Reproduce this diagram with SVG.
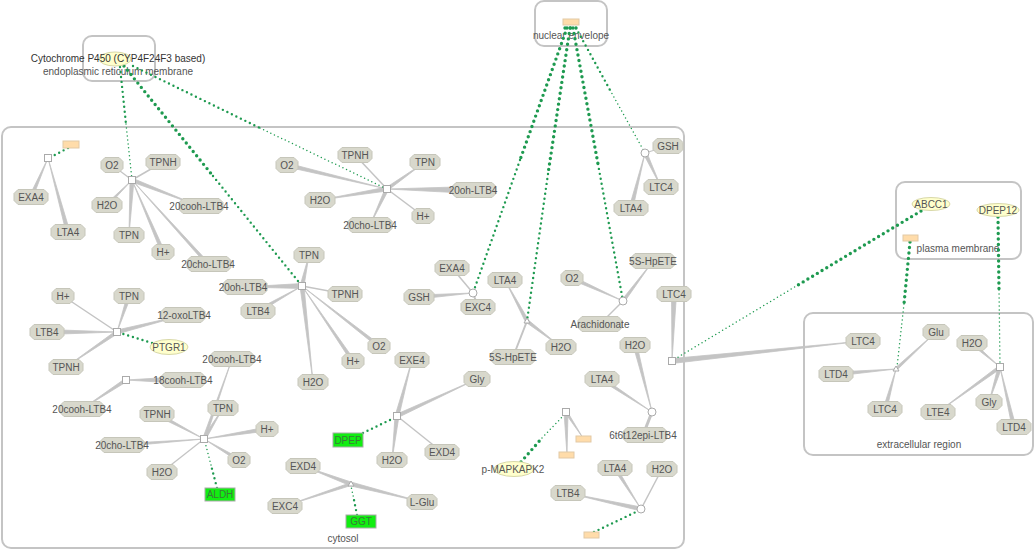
<svg xmlns="http://www.w3.org/2000/svg" xmlns:xlink="http://www.w3.org/1999/xlink" width="1035" height="552" viewBox="0 0 1035 552">
<style>
text{font-family:"Liberation Sans",Arial,sans-serif;font-size:10px;fill:#555;text-anchor:middle}
.comp{fill:none;stroke:#c4c4c4;stroke-width:2}
.oct{fill:#d8d8cc;stroke:#c6c6ba;stroke-width:1}
.w{fill:#c4c4c4;stroke:#c4c4c4;stroke-width:0.8;stroke-linejoin:round}
.l{stroke:#c4c4c4;fill:none}
.pr{fill:#fff;stroke:#aaa;stroke-width:1}
.enz{fill:#ffffcc;stroke:#d8d8a8;stroke-width:1}
.grn{fill:#11ee11;stroke:#aaa;stroke-width:1}
.org{fill:#ffdcaa;stroke:#e2c9a6;stroke-width:1}
.c1{stroke:#1e9a50;fill:none;stroke-linecap:round;stroke-width:3.4;stroke-dasharray:0 5.5}
.c2{stroke:#1e9a50;fill:none;stroke-linecap:round;stroke-width:2.4;stroke-dasharray:0 5}
.c3{stroke:#1e9a50;fill:none;stroke-linecap:round;stroke-width:1.5;stroke-dasharray:0 4}
</style>
<defs>
<polygon id="o22" class="oct" points="-7,-7.5 7,-7.5 11,-3.5 11,3.5 7,7.5 -7,7.5 -11,3.5 -11,-3.5"/>
<polygon id="o26" class="oct" points="-9,-7.5 9,-7.5 13,-3.5 13,3.5 9,7.5 -9,7.5 -13,3.5 -13,-3.5"/>
<polygon id="o30" class="oct" points="-11,-7.5 11,-7.5 15,-3.5 15,3.5 11,7.5 -11,7.5 -15,3.5 -15,-3.5"/>
<polygon id="o34" class="oct" points="-13,-7.5 13,-7.5 17,-3.5 17,3.5 13,7.5 -13,7.5 -17,3.5 -17,-3.5"/>
<polygon id="o44" class="oct" points="-18,-7.5 18,-7.5 22,-3.5 22,3.5 18,7.5 -18,7.5 -22,3.5 -22,-3.5"/>
</defs>
<rect width="1035" height="552" fill="#fff"/>

<g id="compartments">
<rect class="comp" x="83" y="36" width="72" height="45" rx="9"/>
<rect class="comp" x="535" y="1" width="72" height="45" rx="9"/>
<rect class="comp" x="2" y="127" width="682" height="421" rx="9"/>
<rect class="comp" x="896" y="182" width="125" height="77" rx="9"/>
<rect class="comp" x="804" y="313" width="229" height="142" rx="9"/>
<text x="118" y="75">endoplasmic reticulum membrane</text>
<text x="571" y="39">nuclear envelope</text>
<text x="343" y="542">cytosol</text>
<text x="958" y="252">plasma membrane</text>
<text x="919" y="448">extracellular region</text>
</g>

<g id="connectors">
<!-- A -->
<polygon class="w" points="48,158 29,197 33,197"/>
<polygon class="w" points="48,158 66,232 70,232"/>
<!-- B -->
<line class="l" x1="132" y1="180" x2="112" y2="165" stroke-width="1.3"/>
<line class="l" x1="132" y1="180" x2="163" y2="162" stroke-width="1.5"/>
<polygon class="w" points="132,180 105,205 109,205"/>
<polygon class="w" points="199,206 132,178 132,182"/>
<polygon class="w" points="129,235 130,180 134,180"/>
<polygon class="w" points="132,180 161,252 165,252"/>
<polygon class="w" points="132,180 206,264 210,264"/>
<!-- C -->
<line class="l" x1="117" y1="332" x2="63" y2="296" stroke-width="1.5"/>
<polygon class="w" points="117,332 127,296 131,296"/>
<polygon class="w" points="184,315 117,330 117,334"/>
<polygon class="w" points="117,332 47,329.5 47,334.5"/>
<polygon class="w" points="66,367 117,330 117,334"/>
<!-- D -->
<polygon class="w" points="126,380 183,376.5 183,383.5"/>
<polygon class="w" points="82,409 126,378 126,382"/>
<!-- E -->
<polygon class="w" points="232,359 202.5,439 205.5,439"/>
<polygon class="w" points="223,408 202,439 206,439"/>
<polygon class="w" points="204,439 157,412 157,416"/>
<polygon class="w" points="204,439 267,427 267,431"/>
<polygon class="w" points="204,439 122,443.5 122,446.5"/>
<polygon class="w" points="204,439 239,458 239,462"/>
<line class="l" x1="204" y1="439" x2="162" y2="472" stroke-width="1.3"/>
<!-- H -->
<line class="l" x1="387" y1="189" x2="355" y2="155" stroke-width="1.5"/>
<polygon class="w" points="425,162 387,187 387,191"/>
<polygon class="w" points="387,189 287,163 287,167"/>
<polygon class="w" points="387,189 473,186.5 473,193.5"/>
<polygon class="w" points="320,200 387,187 387,191"/>
<line class="l" x1="387" y1="189" x2="423" y2="216" stroke-width="1.5"/>
<polygon class="w" points="370,225 385,189 389,189"/>
<!-- I -->
<polygon class="w" points="309,255 300,286 304,286"/>
<polygon class="w" points="243,287 302,283.5 302,288.5"/>
<polygon class="w" points="302,286 258,309 258,313"/>
<line class="l" x1="302" y1="286" x2="345" y2="294" stroke-width="1.3"/>
<polygon class="w" points="302,286 379,344 379,348"/>
<polygon class="w" points="302,286 351,361 355,361"/>
<polygon class="w" points="313,382 300,286 304,286"/>
<!-- J -->
<line class="l" x1="473" y1="293" x2="452" y2="268" stroke-width="1.5"/>
<polygon class="w" points="473,293 419,295 419,299"/>
<line class="l" x1="473" y1="293" x2="478" y2="307" stroke-width="2"/>
<!-- K -->
<polygon class="w" points="505,280 525,321 529,321"/>
<line class="l" x1="527" y1="321" x2="513" y2="357" stroke-width="2"/>
<polygon class="w" points="561,347 527,319 527,323"/>
<!-- L -->
<polygon class="w" points="623,301 572,276 572,280"/>
<polygon class="w" points="653,261 621,301 625,301"/>
<line class="l" x1="623" y1="301" x2="600" y2="324" stroke-width="1.5"/>
<!-- Q -->
<line class="l" x1="645" y1="153" x2="668" y2="146" stroke-width="1.2"/>
<polygon class="w" points="661,187 643,153 647,153"/>
<polygon class="w" points="645,153 629,208 633,208"/>
<!-- M -->
<polygon class="w" points="672,361 671.5,294 676.5,294"/>
<polygon class="w" points="863,341 672,358.5 672,363.5"/>
<!-- N -->
<polygon class="w" points="652,412 633,345 637,345"/>
<polygon class="w" points="652,412 602,377 602,381"/>
<line class="l" x1="652" y1="412" x2="643" y2="435" stroke-width="3"/>
<!-- O -->
<polygon class="w" points="583,438 564.5,412 567.5,412"/>
<polygon class="w" points="567,455 564,412 568,412"/>
<!-- P -->
<polygon class="w" points="641,509 613,468 617,468"/>
<line class="l" x1="641" y1="509" x2="662" y2="469" stroke-width="1.5"/>
<polygon class="w" points="568,493 641,507 641,511"/>
<!-- F -->
<polygon class="w" points="412,360 395,416 399,416"/>
<polygon class="w" points="477,379 397,414 397,418"/>
<polygon class="w" points="392,460 395,416 399,416"/>
<line class="l" x1="397" y1="416" x2="442" y2="452" stroke-width="1.5"/>
<!-- G -->
<polygon class="w" points="303,466 351,482 351,486"/>
<polygon class="w" points="422,502 351,482 351,486"/>
<polygon class="w" points="285,506 351,482.5 351,485.5"/>
<!-- R -->
<polygon class="w" points="896,369 836,372 836,376"/>
<polygon class="w" points="936,332 894,369 898,369"/>
<polygon class="w" points="896,369 883,409 887,409"/>
<!-- S -->
<polygon class="w" points="1000,367 972,341 972,345"/>
<polygon class="w" points="938,412 1000,365 1000,369"/>
<polygon class="w" points="989,402 998,367 1002,367"/>
<polygon class="w" points="1000,367 1012,427 1016,427"/>

<!-- catalysis links -->
<polyline class="c2" points="120,67 126,124"/><polyline class="c3" points="126,124 132,180"/>
<polyline class="c1" points="124,66 213,176"/><polyline class="c2" points="213,176 302,286"/>
<polyline class="c2" points="133,66 260,128"/><polyline class="c3" points="260,128 387,189"/>
<polyline class="c1" points="567,28 520,160"/><polyline class="c2" points="520,160 473,293"/>
<polyline class="c1" points="570,28 548,174"/><polyline class="c2" points="548,174 527,321"/>
<polyline class="c1" points="573,28 598,164"/><polyline class="c2" points="598,164 623,301"/>
<polyline class="c2" points="576,28 610,90"/><polyline class="c3" points="610,90 645,153"/>
<polyline class="c1" points="565,28 577,28"/>
<polyline class="c2" points="68,148 51,157"/>
<polyline class="c2" points="152,343 120,333"/>
<polyline class="c2" points="217,488 211,465"/><polyline class="c3" points="211,465 205,442"/>
<polyline class="c2" points="363,433 394,418"/>
<polyline class="c2" points="357,515 354,500"/><polyline class="c3" points="354,500 351,486"/>
<polyline class="c1" points="521,462 542,438"/><polyline class="c3" points="542,438 564,415"/>
<polyline class="c2" points="594,532 638,511"/>
<polyline class="c1" points="921,211 798,285"/><polyline class="c3" points="798,285 675,359"/>
<polyline class="c1" points="910,242 904,304"/><polyline class="c3" points="904,304 897,367"/>
<polyline class="c1" points="998,217 999,290"/><polyline class="c3" points="999,290 1000,364"/>
</g>

<g id="processes">
<rect class="pr" x="44.5" y="154.5" width="7" height="7"/>
<rect class="pr" x="128.5" y="176.5" width="7" height="7"/>
<rect class="pr" x="113.5" y="328.5" width="7" height="7"/>
<rect class="pr" x="122.5" y="376.5" width="7" height="7"/>
<rect class="pr" x="200.5" y="435.5" width="7" height="7"/>
<rect class="pr" x="383.5" y="185.5" width="7" height="7"/>
<rect class="pr" x="298.5" y="282.5" width="7" height="7"/>
<rect class="pr" x="393.5" y="412.5" width="7" height="7"/>
<rect class="pr" x="668.5" y="357.5" width="7" height="7"/>
<rect class="pr" x="562.5" y="408.5" width="7" height="7"/>
<rect class="pr" x="996.5" y="363.5" width="7" height="7"/>
<circle class="pr" cx="473" cy="293" r="4"/>
<circle class="pr" cx="623" cy="301" r="4"/>
<circle class="pr" cx="645" cy="153" r="4"/>
<circle class="pr" cx="652" cy="412" r="4"/>
<circle class="pr" cx="641" cy="509" r="4"/>
<polygon class="pr" points="527,318 530,323 524,323"/>
<polygon class="pr" points="351,481 354,486 348,486"/>
<polygon class="pr" points="896,366 899,371 893,371"/>
</g>

<g id="n-cyp"><ellipse class="enz" cx="115" cy="59" rx="16" ry="7"/><text x="118" y="62" style="fill:#333">Cytochrome P450 (CYP4F24F3 based)</text></g>
<g id="n-ne-orange"><rect class="org" x="563" y="19" width="16" height="6"/></g>
<g id="n-orange1"><rect class="org" x="63" y="141" width="16" height="7"/></g>
<g id="n-exa4-1"><use href="#o34" x="31" y="197"/><text x="31" y="200.5">EXA4</text></g>
<g id="n-lta4-1"><use href="#o34" x="68" y="232"/><text x="68" y="235.5">LTA4</text></g>
<g id="n-o2-1"><use href="#o22" x="112" y="165"/><text x="112" y="168.5">O2</text></g>
<g id="n-tpnh-1"><use href="#o34" x="163" y="162"/><text x="163" y="165.5">TPNH</text></g>
<g id="n-h2o-1"><use href="#o30" x="107" y="205"/><text x="107" y="208.5">H2O</text></g>
<g id="n-20cooh-1"><use href="#o44" x="201" y="206"/><text x="199" y="209.5">20cooh-LTB4</text></g>
<g id="n-tpn-1"><use href="#o30" x="129" y="235"/><text x="129" y="238.5">TPN</text></g>
<g id="n-hp-1"><use href="#o22" x="163" y="252"/><text x="163" y="255.5">H+</text></g>
<g id="n-20cho-1"><use href="#o44" x="209" y="264"/><text x="208" y="267.5">20cho-LTB4</text></g>

<g id="n-hp-2"><use href="#o22" x="63" y="296"/><text x="63" y="299.5">H+</text></g>
<g id="n-tpn-2"><use href="#o30" x="129" y="296"/><text x="129" y="299.5">TPN</text></g>
<g id="n-12oxo"><use href="#o44" x="183" y="315"/><text x="184" y="318.5">12-oxoLTB4</text></g>
<g id="n-ltb4-1"><use href="#o34" x="47" y="332"/><text x="47" y="335.5">LTB4</text></g>
<g id="n-ptgr1"><ellipse class="enz" cx="169" cy="347" rx="19" ry="7.5"/><text x="169" y="350.5">PTGR1</text></g>
<g id="n-tpnh-2"><use href="#o34" x="66" y="367"/><text x="66" y="370.5">TPNH</text></g>
<g id="n-18cooh"><use href="#o44" x="183" y="380"/><text x="183" y="383.5">18cooh-LTB4</text></g>
<g id="n-20cooh-2"><use href="#o44" x="232" y="359"/><text x="232" y="362.5">20cooh-LTB4</text></g>
<g id="n-20cooh-3"><use href="#o44" x="82" y="409"/><text x="82" y="412.5">20cooh-LTB4</text></g>
<g id="n-tpnh-3"><use href="#o34" x="157" y="414"/><text x="157" y="417.5">TPNH</text></g>
<g id="n-tpn-3"><use href="#o30" x="223" y="408"/><text x="223" y="411.5">TPN</text></g>
<g id="n-hp-3"><use href="#o22" x="267" y="429"/><text x="267" y="432.5">H+</text></g>
<g id="n-20cho-3"><use href="#o44" x="122" y="445"/><text x="122" y="448.5">20cho-LTB4</text></g>
<g id="n-o2-3"><use href="#o22" x="239" y="460"/><text x="239" y="463.5">O2</text></g>
<g id="n-h2o-3"><use href="#o30" x="162" y="472"/><text x="162" y="475.5">H2O</text></g>
<g id="n-aldh"><rect class="grn" x="205" y="488" width="30" height="13"/><text x="220" y="498" style="fill:#3a7a3a">ALDH</text></g>

<g id="n-tpnh-4"><use href="#o34" x="355" y="155"/><text x="355" y="158.5">TPNH</text></g>
<g id="n-tpn-4"><use href="#o30" x="425" y="162"/><text x="425" y="165.5">TPN</text></g>
<g id="n-o2-4"><use href="#o22" x="287" y="165"/><text x="287" y="168.5">O2</text></g>
<g id="n-20oh-4"><use href="#o44" x="474" y="190"/><text x="473" y="193.5">20oh-LTB4</text></g>
<g id="n-h2o-4"><use href="#o30" x="320" y="200"/><text x="320" y="203.5">H2O</text></g>
<g id="n-hp-4"><use href="#o22" x="423" y="216"/><text x="423" y="219.5">H+</text></g>
<g id="n-20cho-4"><use href="#o44" x="370" y="225"/><text x="370" y="228.5">20cho-LTB4</text></g>

<g id="n-tpn-5"><use href="#o30" x="309" y="255"/><text x="309" y="258.5">TPN</text></g>
<g id="n-20oh-5"><use href="#o44" x="245" y="287"/><text x="243" y="290.5">20oh-LTB4</text></g>
<g id="n-ltb4-5"><use href="#o34" x="258" y="311"/><text x="258" y="314.5">LTB4</text></g>
<g id="n-tpnh-5"><use href="#o34" x="345" y="294"/><text x="345" y="297.5">TPNH</text></g>
<g id="n-o2-5"><use href="#o22" x="379" y="346"/><text x="379" y="349.5">O2</text></g>
<g id="n-hp-5"><use href="#o22" x="353" y="361"/><text x="353" y="364.5">H+</text></g>
<g id="n-h2o-5"><use href="#o30" x="313" y="382"/><text x="313" y="385.5">H2O</text></g>

<g id="n-exa4-6"><use href="#o34" x="452" y="268"/><text x="452" y="271.5">EXA4</text></g>
<g id="n-gsh-6"><use href="#o30" x="419" y="297"/><text x="419" y="300.5">GSH</text></g>
<g id="n-exc4-6"><use href="#o34" x="478" y="307"/><text x="478" y="310.5">EXC4</text></g>
<g id="n-lta4-7"><use href="#o34" x="505" y="280"/><text x="505" y="283.5">LTA4</text></g>
<g id="n-5s-7"><use href="#o44" x="513" y="357"/><text x="513" y="360.5">5S-HpETE</text></g>
<g id="n-h2o-7"><use href="#o30" x="561" y="347"/><text x="561" y="350.5">H2O</text></g>
<g id="n-o2-8"><use href="#o22" x="572" y="278"/><text x="572" y="281.5">O2</text></g>
<g id="n-5s-8"><use href="#o44" x="653" y="261"/><text x="653" y="264.5">5S-HpETE</text></g>
<g id="n-arach"><use href="#o44" x="600" y="324"/><text x="600" y="327.5">Arachidonate</text></g>
<g id="n-gsh-9"><use href="#o30" x="668" y="146"/><text x="668" y="149.5">GSH</text></g>
<g id="n-ltc4-9"><use href="#o34" x="661" y="187"/><text x="661" y="190.5">LTC4</text></g>
<g id="n-lta4-9"><use href="#o34" x="631" y="208"/><text x="631" y="211.5">LTA4</text></g>
<g id="n-ltc4-10"><use href="#o34" x="674" y="294"/><text x="674" y="297.5">LTC4</text></g>
<g id="n-h2o-11"><use href="#o30" x="635" y="345"/><text x="635" y="348.5">H2O</text></g>
<g id="n-lta4-11"><use href="#o34" x="602" y="379"/><text x="602" y="382.5">LTA4</text></g>
<g id="n-6t6t"><use href="#o44" x="645" y="435"/><text x="643" y="438.5">6t6t12epi-LTB4</text></g>
<g id="n-org-o1"><rect class="org" x="576" y="436" width="15" height="6"/></g>
<g id="n-org-o2"><rect class="org" x="559" y="452" width="15" height="6"/></g>
<g id="n-mapkapk2"><ellipse class="enz" cx="514" cy="469" rx="20" ry="7.5"/><text x="513" y="472.5">p-MAPKAPK2</text></g>
<g id="n-lta4-12"><use href="#o34" x="615" y="468"/><text x="615" y="471.5">LTA4</text></g>
<g id="n-h2o-12"><use href="#o30" x="662" y="469"/><text x="662" y="472.5">H2O</text></g>
<g id="n-ltb4-12"><use href="#o34" x="568" y="493"/><text x="568" y="496.5">LTB4</text></g>
<g id="n-org-p"><rect class="org" x="584" y="532" width="15" height="6"/></g>

<g id="n-exe4"><use href="#o34" x="412" y="360"/><text x="412" y="363.5">EXE4</text></g>
<g id="n-gly-13"><use href="#o26" x="477" y="379"/><text x="477" y="382.5">Gly</text></g>
<g id="n-h2o-13"><use href="#o30" x="392" y="460"/><text x="392" y="463.5">H2O</text></g>
<g id="n-exd4-13"><use href="#o34" x="442" y="452"/><text x="442" y="455.5">EXD4</text></g>
<g id="n-dpep"><rect class="grn" x="333" y="433" width="30" height="14"/><text x="348" y="443.5" style="fill:#3a7a3a">DPEP</text></g>
<g id="n-exd4-14"><use href="#o34" x="303" y="466"/><text x="303" y="469.5">EXD4</text></g>
<g id="n-exc4-14"><use href="#o34" x="285" y="506"/><text x="285" y="509.5">EXC4</text></g>
<g id="n-lglu"><use href="#o30" x="422" y="502"/><text x="422" y="505.5">L-Glu</text></g>
<g id="n-ggt"><rect class="grn" x="346" y="515" width="30" height="13"/><text x="361" y="525" style="fill:#3a7a3a">GGT</text></g>

<g id="n-abcc1"><ellipse class="enz" cx="931" cy="204" rx="19" ry="6.5"/><text x="931" y="207.5">ABCC1</text></g>
<g id="n-dpep12"><ellipse class="enz" cx="998" cy="210" rx="21" ry="6.5"/><text x="998" y="213.5">DPEP12</text></g>
<g id="n-org-pm"><rect class="org" x="903" y="235" width="15" height="6"/></g>
<g id="n-ltc4-ext"><use href="#o34" x="863" y="341"/><text x="863" y="344.5">LTC4</text></g>
<g id="n-glu"><use href="#o26" x="936" y="332"/><text x="936" y="335.5">Glu</text></g>
<g id="n-ltd4-1"><use href="#o34" x="836" y="374"/><text x="836" y="377.5">LTD4</text></g>
<g id="n-ltc4-ext2"><use href="#o34" x="885" y="409"/><text x="885" y="412.5">LTC4</text></g>
<g id="n-h2o-ext"><use href="#o30" x="972" y="343"/><text x="972" y="346.5">H2O</text></g>
<g id="n-lte4"><use href="#o34" x="938" y="412"/><text x="938" y="415.5">LTE4</text></g>
<g id="n-gly-ext"><use href="#o26" x="989" y="402"/><text x="989" y="405.5">Gly</text></g>
<g id="n-ltd4-2"><use href="#o34" x="1014" y="427"/><text x="1014" y="430.5">LTD4</text></g>
</svg>
